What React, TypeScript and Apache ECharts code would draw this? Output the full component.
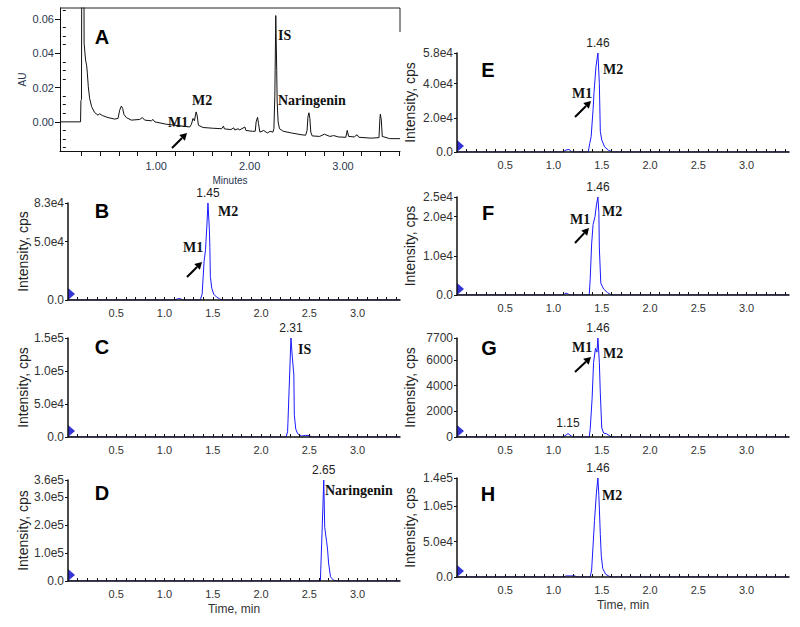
import React, { useEffect, useRef } from 'react';
import * as echarts from 'echarts';

// ---------- Panel A: UV chromatogram (Minutes, AU) ----------
const aTrace: [number, number][] = [
  [-0.03, 0], [0.19, 0], [0.194, 0.0125], [0.2, 0.013], [0.207, 0.2], [0.222, 0.2], [0.228, 0.0458],
  [0.244, 0.036], [0.255, 0.033], [0.262, 0.029], [0.273, 0.0205], [0.287, 0.0137], [0.309, 0.0088],
  [0.34, 0.0055], [0.376, 0.0039], [0.394, 0.0047], [0.423, 0.0037], [0.484, 0.0025], [0.556, 0.0016],
  [0.591, 0.002], [0.609, 0.0068], [0.627, 0.0092], [0.641, 0.0078], [0.655, 0.0043], [0.68, 0.0025],
  [0.734, 0.001], [0.823, 0.0014], [0.852, 0.0025], [0.877, 0.001], [0.948, 0.0006], [0.966, 0.0014],
  [0.984, 0], [1.109, -0.0014], [1.252, -0.0023], [1.359, -0.003], [1.377, -0.0014], [1.394, 0.002],
  [1.409, 0.0006], [1.427, 0.0058], [1.438, 0.0039], [1.452, -0.002], [1.502, -0.0033], [1.6, -0.0037],
  [1.7, -0.004], [1.72, -0.0025], [1.73, -0.0041], [1.8, -0.0045], [1.83, -0.0035], [1.84, -0.0047],
  [1.88, -0.004], [1.89, -0.0048], [1.95, -0.003], [1.96, -0.005], [2.03, -0.0055], [2.06, -0.0055],
  [2.07, 0], [2.085, 0.0027], [2.095, -0.001], [2.11, -0.006], [2.15, -0.005], [2.19, -0.0065],
  [2.22, -0.0055], [2.25, -0.006], [2.26, -0.004], [2.27, 0.015], [2.28, 0.062], [2.29, 0.03],
  [2.295, 0.012], [2.305, 0], [2.32, -0.004], [2.36, -0.0055], [2.45, -0.0065], [2.55, -0.0075],
  [2.6, -0.0078], [2.615, -0.005], [2.625, 0.003], [2.635, 0.0053], [2.645, 0.002], [2.655, -0.006],
  [2.67, -0.0082], [2.75, -0.0085], [2.8, -0.0072], [2.86, -0.0085], [2.9, -0.008], [2.95, -0.0088],
  [3.03, -0.009], [3.045, -0.005], [3.06, -0.0085], [3.12, -0.0088], [3.15, -0.0075], [3.17, -0.009],
  [3.3, -0.0095], [3.385, -0.0092], [3.395, 0.002], [3.4, 0.0045], [3.41, 0.001], [3.42, -0.0085],
  [3.5, -0.0098], [3.61, -0.0098],
];
const aXLabelValues = [1, 2, 3];
const aXTickValues = [0.2, 0.4, 0.6, 0.8, 1.0, 1.2, 1.4, 1.6, 1.8, 2.0, 2.2, 2.4, 2.6, 2.8, 3.0, 3.2, 3.4, 3.6];
const aYLabelValues = [0, 0.02, 0.04, 0.06];
const aYMinorValues = [-0.015, -0.01, -0.005, 0.005, 0.01, 0.015, 0.025, 0.03, 0.035, 0.045, 0.05, 0.055, 0.065];

// ---------- MS panels (Time, min / Intensity, cps) ----------
const msXLabelValues = [0.5, 1.0, 1.5, 2.0, 2.5, 3.0];
const msXTickValues = [
  0.1, 0.2, 0.3, 0.4, 0.5, 0.6, 0.7, 0.8, 0.9, 1.0, 1.1, 1.2, 1.3, 1.4, 1.5, 1.6, 1.7,
  1.8, 1.9, 2.0, 2.1, 2.2, 2.3, 2.4, 2.5, 2.6, 2.7, 2.8, 2.9, 3.0, 3.1, 3.2, 3.3, 3.4,
];

const bTrace: [number, number][] = [
  [0, 0], [1.1, 0], [1.13, 800], [1.16, 1200], [1.19, 0], [1.37, 0], [1.39, 5000], [1.41, 33000],
  [1.425, 43000], [1.44, 65000], [1.45, 83000], [1.465, 60000], [1.47, 45000], [1.475, 20000],
  [1.49, 10000], [1.51, 5000], [1.54, 2500], [1.57, 1000], [1.6, 0], [3.44, 0],
];
const bYValues = [0, 50000, 83000];
const bYTexts = ['0.0', '5.0e4', '8.3e4'];
const bPeaks: [number, number, string][] = [[1.45, 83000, '1.45']];

const cTrace: [number, number][] = [
  [0, 0], [2.26, 0], [2.275, 8000], [2.28, 26000], [2.31, 150000], [2.325, 120000], [2.34, 94000],
  [2.345, 33000], [2.36, 12000], [2.38, 5000], [2.42, 1500], [2.46, 2500], [2.5, 2000], [2.53, 0], [3.44, 0],
];
const cYValues = [0, 50000, 100000, 150000];
const cYTexts = ['0.0', '5.0e4', '1.0e5', '1.5e5'];
const cPeaks: [number, number, string][] = [[2.31, 150000, '2.31']];

const dTrace: [number, number][] = [
  [0, 0], [2.615, 0], [2.62, 50000], [2.635, 200000], [2.65, 360000], [2.66, 190000], [2.68, 140000],
  [2.69, 110000], [2.7, 64000], [2.72, 15000], [2.75, 3000], [2.79, 0], [3.44, 0],
];
const dYValues = [0, 100000, 200000, 300000, 360000];
const dYTexts = ['0.0', '1.0e5', '2.0e5', '3.0e5', '3.6e5'];
const dPeaks: [number, number, string][] = [[2.65, 360000, '2.65']];

const eTrace: [number, number][] = [
  [0, 0], [1.1, 0], [1.13, 1200], [1.16, 1500], [1.19, 0], [1.36, 0], [1.375, 5000], [1.39, 9000],
  [1.41, 25000], [1.42, 35000], [1.44, 50000], [1.46, 58000], [1.475, 40000], [1.485, 12000],
  [1.5, 7000], [1.53, 3000], [1.57, 1000], [1.61, 0], [3.44, 0],
];
const eYValues = [0, 20000, 40000, 58000];
const eYTexts = ['0.0', '2.0e4', '4.0e4', '5.8e4'];
const ePeaks: [number, number, string][] = [[1.46, 58000, '1.46']];

const fTrace: [number, number][] = [
  [0, 0], [1.1, 0], [1.13, 500], [1.17, 0], [1.37, 0], [1.38, 4000], [1.395, 13000], [1.41, 18000],
  [1.43, 20000], [1.445, 23000], [1.46, 25000], [1.47, 21000], [1.475, 12000], [1.49, 3000],
  [1.52, 1500], [1.56, 600], [1.6, 0], [3.44, 0],
];
const fYValues = [0, 10000, 20000, 25000];
const fYTexts = ['0.0', '1.0e4', '2.0e4', '2.5e4'];
const fPeaks: [number, number, string][] = [[1.46, 25000, '1.46']];

const gTrace: [number, number][] = [
  [0, 0], [1.1, 0], [1.13, 150], [1.15, 270], [1.17, 150], [1.2, 0], [1.37, 0], [1.38, 600],
  [1.4, 3000], [1.415, 5800], [1.435, 6900], [1.45, 6600], [1.46, 7700], [1.475, 5800],
  [1.485, 3400], [1.5, 700], [1.52, 300], [1.55, 250], [1.6, 0], [3.44, 0],
];
const gYValues = [0, 2000, 4000, 6000, 7700];
const gYTexts = ['0', '2000', '4000', '6000', '7700'];
const gPeaks: [number, number, string][] = [[1.46, 7700, '1.46'], [1.15, 270, '1.15']];

const hTrace: [number, number][] = [
  [0, 0], [1.1, 0], [1.13, 1500], [1.22, 1500], [1.25, 0], [1.38, 0], [1.395, 10000], [1.41, 45000],
  [1.425, 80000], [1.445, 120000], [1.46, 140000], [1.47, 115000], [1.485, 60000], [1.495, 30000],
  [1.51, 12000], [1.54, 4000], [1.57, 1500], [1.6, 0], [3.44, 0],
];
const hYValues = [0, 50000, 100000, 140000];
const hYTexts = ['0.0', '5.0e4', '1.0e5', '1.4e5'];
const hPeaks: [number, number, string][] = [[1.46, 140000, '1.46']];

// ---------- styling / layout ----------
const FONT = 'Liberation Sans, Arial, Helvetica, sans-serif';
const SERIF = 'Liberation Serif, Times New Roman, serif';
const BLUE = '#1a1aff';
const NAVY = '#2a3650';
const MS_WIDTH = 332;
const MS_XMAX = 3.44;

const panels = [
  { trace: bTrace, yv: bYValues, yt: bYTexts, peaks: bPeaks, left: 68, top: 203, height: 97, right: false, time: false },
  { trace: cTrace, yv: cYValues, yt: cYTexts, peaks: cPeaks, left: 68, top: 338, height: 99, right: false, time: false },
  { trace: dTrace, yv: dYValues, yt: dYTexts, peaks: dPeaks, left: 68, top: 480, height: 101, right: false, time: true },
  { trace: eTrace, yv: eYValues, yt: eYTexts, peaks: ePeaks, left: 457, top: 53, height: 99, right: true, time: false },
  { trace: fTrace, yv: fYValues, yt: fYTexts, peaks: fPeaks, left: 457, top: 197, height: 98, right: true, time: false },
  { trace: gTrace, yv: gYValues, yt: gYTexts, peaks: gPeaks, left: 457, top: 338, height: 99, right: true, time: false },
  { trace: hTrace, yv: hYValues, yt: hYTexts, peaks: hPeaks, left: 457, top: 478, height: 99, right: true, time: true },
];

const letters: [string, number, number][] = [
  ['A', 102, 37], ['B', 102, 211], ['C', 102, 347], ['D', 102, 493],
  ['E', 488, 70], ['F', 488, 213], ['G', 489, 348], ['H', 488, 494],
];
const compoundLabels: [string, number, number][] = [
  ['IS', 278, 35], ['Naringenin', 278, 100], ['M1', 168, 122], ['M2', 192, 100],
  ['M2', 218, 211], ['M1', 183, 247],
  ['IS', 298, 349],
  ['Naringenin', 325, 490],
  ['M2', 603, 69], ['M1', 572, 93],
  ['M2', 602, 211], ['M1', 570, 219],
  ['M1', 572, 347], ['M2', 603, 353],
  ['M2', 602, 495],
];
const arrows: [number, number, number, number][] = [
  [172, 148, 187, 133],
  [187, 277, 202, 262],
  [575, 117, 591, 101],
  [575, 243, 589, 228],
  [575, 372, 591, 357],
];

function arrowElements(x1: number, y1: number, x2: number, y2: number) {
  const dx = x2 - x1;
  const dy = y2 - y1;
  const L = Math.hypot(dx, dy);
  const ux = dx / L;
  const uy = dy / L;
  const hl = 7;
  const hw = 4;
  const bx = x2 - ux * hl;
  const by = y2 - uy * hl;
  return [
    { type: 'line', shape: { x1, y1, x2: bx, y2: by }, style: { stroke: '#000', lineWidth: 2 } },
    {
      type: 'polygon',
      shape: { points: [[x2, y2], [bx - uy * hw, by + ux * hw], [bx + uy * hw, by - ux * hw]] },
      style: { fill: '#000' },
    },
  ];
}

function buildOption() {
  const grids: any[] = [{ left: 60, top: 8, width: 340, height: 143 }];
  panels.forEach((p) => grids.push({ left: p.left, top: p.top, width: MS_WIDTH, height: p.height }));

  const xAxes: any[] = [
    {
      type: 'value', gridIndex: 0, min: -0.03, max: 3.61, z: 5,
      axisLine: { show: true, onZero: false, lineStyle: { color: '#111', width: 1 } },
      axisTick: { show: true, inside: false, length: 5, customValues: aXTickValues, lineStyle: { color: '#111' } },
      axisLabel: {
        show: true, customValues: aXLabelValues, formatter: (v: number) => v.toFixed(2),
        margin: 9, fontSize: 11, color: NAVY, fontFamily: FONT,
      },
      splitLine: { show: false },
      name: 'Minutes', nameLocation: 'middle', nameGap: 24,
      nameTextStyle: { fontSize: 10, color: NAVY, fontFamily: FONT },
    },
  ];
  const yAxes: any[] = [
    {
      type: 'value', gridIndex: 0, min: -0.017, max: 0.0664, z: 5,
      axisLine: { show: true, onZero: false, lineStyle: { color: '#111', width: 1 } },
      axisTick: { show: true, inside: false, length: 5, customValues: aYLabelValues, lineStyle: { color: '#111' } },
      axisLabel: {
        show: true, customValues: aYLabelValues, formatter: (v: number) => v.toFixed(2),
        margin: 6, fontSize: 11, color: NAVY, fontFamily: FONT,
      },
      splitLine: { show: false },
      name: 'AU', nameLocation: 'middle', nameGap: 33,
      nameTextStyle: { fontSize: 10, color: NAVY, fontFamily: FONT },
    },
  ];
  const series: any[] = [
    {
      type: 'line', xAxisIndex: 0, yAxisIndex: 0, data: aTrace, showSymbol: false, clip: true,
      lineStyle: { color: '#111', width: 1 }, z: 2, silent: true,
    },
  ];

  panels.forEach((p, i) => {
    const gi = i + 1;
    const ymax = p.yv[p.yv.length - 1];
    xAxes.push({
      type: 'value', gridIndex: gi, min: 0, max: MS_XMAX, z: 5,
      axisLine: { show: true, onZero: false, lineStyle: { color: '#111', width: 1.5 } },
      axisTick: { show: true, inside: true, length: 3, customValues: msXTickValues, lineStyle: { color: '#111' } },
      axisLabel: {
        show: true, customValues: msXLabelValues, formatter: (v: number) => v.toFixed(1),
        margin: 7, fontSize: 11, color: '#333', fontFamily: FONT,
      },
      splitLine: { show: false },
      name: p.time ? 'Time, min' : '', nameLocation: 'middle', nameGap: 22,
      nameTextStyle: { fontSize: 12, color: '#333', fontFamily: FONT },
    });
    yAxes.push({
      type: 'value', gridIndex: gi, min: 0, max: ymax, z: 5,
      axisLine: { show: true, onZero: false, lineStyle: { color: '#111', width: 1.5 } },
      axisTick: { show: true, inside: false, length: 3, customValues: p.yv, lineStyle: { color: '#111' } },
      axisLabel: {
        show: true, customValues: p.yv,
        formatter: (v: number) => {
          const k = p.yv.findIndex((t) => Math.abs(t - v) < ymax * 1e-6);
          return k >= 0 ? p.yt[k] : '';
        },
        margin: 4, fontSize: 12, color: '#333', fontFamily: FONT,
      },
      splitLine: { show: false },
      name: 'Intensity, cps', nameLocation: 'middle', nameGap: p.right ? 40 : 38,
      nameTextStyle: { fontSize: 14, color: '#222', fontFamily: FONT },
    });
    series.push({
      type: 'line', xAxisIndex: gi, yAxisIndex: gi, data: p.trace, showSymbol: false, clip: true,
      lineStyle: { color: BLUE, width: 1 }, z: 2, silent: true,
      markPoint: {
        symbol: 'circle', symbolSize: 1, silent: true,
        itemStyle: { color: 'rgba(0,0,0,0)' },
        label: {
          show: true, position: 'top', distance: 4, formatter: '{b}',
          color: '#222', fontSize: 12, fontFamily: FONT,
        },
        data: p.peaks.map(([t, v, txt]) => ({ coord: [t, v], name: txt })),
      },
    });
    series.push({
      type: 'scatter', xAxisIndex: gi, yAxisIndex: gi, data: [[0, 0]], clip: false, silent: true,
      symbol: 'path://M0,0L10,6L0,12Z', symbolSize: [7, 12], symbolOffset: [3.5, -6],
      itemStyle: { color: '#0000cc' }, z: 3,
    });
  });

  // minor ticks for panel A's AU axis
  yAxes.push({
    type: 'value', gridIndex: 0, min: -0.017, max: 0.0664, z: 5,
    axisLine: { show: false },
    axisTick: { show: true, inside: false, length: 3, customValues: aYMinorValues, lineStyle: { color: '#111' } },
    axisLabel: { show: false },
    splitLine: { show: false },
  });

  const graphics: any[] = [
    { type: 'line', shape: { x1: 60, y1: 8, x2: 400, y2: 8 }, style: { stroke: '#222', lineWidth: 1 } },
    { type: 'line', shape: { x1: 400, y1: 8, x2: 400, y2: 32 }, style: { stroke: '#222', lineWidth: 1 } },
  ];
  letters.forEach(([t, x, y]) =>
    graphics.push({
      type: 'text', x, y,
      style: {
        text: t, fill: '#000', font: `bold 20px ${FONT}`,
        align: 'center', verticalAlign: 'middle', textAlign: 'center', textVerticalAlign: 'middle',
      },
    }),
  );
  compoundLabels.forEach(([t, x, y]) =>
    graphics.push({
      type: 'text', x, y,
      style: {
        text: t, fill: '#111', font: `bold 14px ${SERIF}`,
        align: 'left', verticalAlign: 'middle', textAlign: 'left', textVerticalAlign: 'middle',
      },
    }),
  );
  arrows.forEach(([x1, y1, x2, y2]) => graphics.push(...arrowElements(x1, y1, x2, y2)));

  return {
    animation: false,
    backgroundColor: '#ffffff',
    textStyle: { fontFamily: FONT },
    grid: grids,
    xAxis: xAxes,
    yAxis: yAxes,
    series,
    graphic: { elements: graphics },
  };
}

export default function App() {
  const ref = useRef<HTMLDivElement>(null);
  useEffect(() => {
    document.body.style.margin = '0';
    if (!ref.current) return;
    const chart = echarts.init(ref.current, undefined, { renderer: 'svg' });
    chart.setOption(buildOption() as any);
    return () => chart.dispose();
  }, []);
  return <div ref={ref} style={{ width: 800, height: 627 }} />;
}
